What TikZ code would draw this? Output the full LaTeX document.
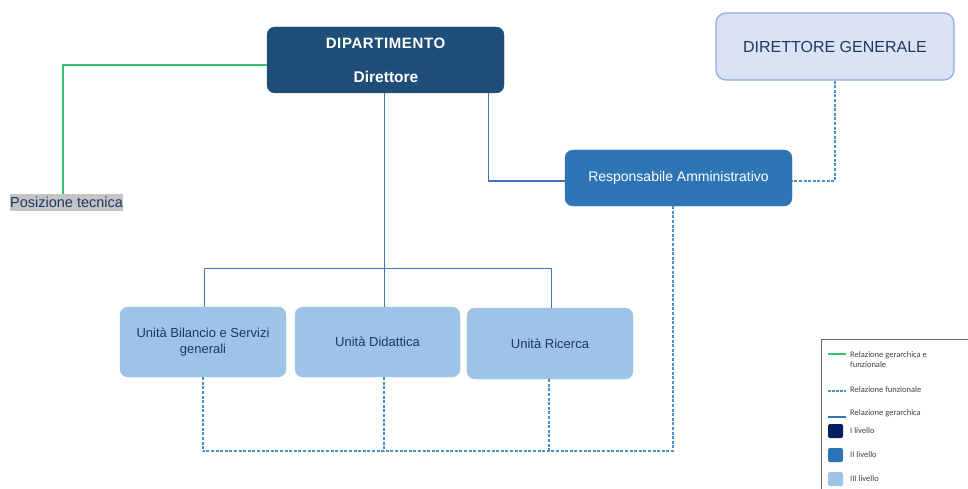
\documentclass[tikz,border=0pt]{standalone}
\usepackage{fontspec}
\setmainfont{Liberation Sans}
\newfontfamily\legfont{Carlito}
\definecolor{deptc}{HTML}{1F4E79}
\definecolor{dgfill}{HTML}{DAE3F3}
\definecolor{dgdraw}{HTML}{8FAADC}
\definecolor{respc}{HTML}{2E75B6}
\definecolor{unitc}{HTML}{9DC3E6}
\definecolor{navy}{HTML}{1F3864}
\definecolor{lineblue}{HTML}{4472C4}
\definecolor{dashblue}{HTML}{4A90D0}
\definecolor{greenl}{HTML}{2FC46A}
\definecolor{lev1}{HTML}{002060}
\definecolor{posbg}{HTML}{C4C4C4}
\tikzset{
  box/.style={rounded corners=8pt, inner sep=0pt, align=center},
  deptbox/.style={box, fill=deptc, draw=deptc, text=white, font=\bfseries\fontsize{15}{18}\selectfont},
  dgbox/.style={box, rounded corners=10pt, fill=dgfill, draw=dgdraw, line width=1.2pt, text=navy, font=\fontsize{16}{19}\selectfont},
  respbox/.style={box, fill=respc, draw=respc, text=white, font=\fontsize{14}{17}\selectfont},
  unitbox/.style={box, fill=unitc, draw=unitc, text=navy, font=\fontsize{13}{16}\selectfont},
  hier/.style={draw=lineblue, line width=1pt},
  func/.style={draw=dashblue, line width=1.3pt, dash pattern=on 3pt off 1.6pt},
  hierfunc/.style={draw=greenl, line width=1.3pt},
  legtext/.style={anchor=west, inner sep=0pt, text=black!75, font=\legfont\fontsize{8.5}{10}\selectfont, align=left},
  legsq/.style={rounded corners=2pt, minimum width=15pt, minimum height=14pt, inner sep=0pt},
}
\begin{document}
\begin{tikzpicture}[x=1pt, y=-1pt]
\useasboundingbox (0,0) rectangle (968,489);
% main boxes
\node[deptbox, minimum width=237pt, minimum height=66pt] (dept) at (385.5,60) {};
\node[text=white, font=\bfseries\fontsize{15}{18}\selectfont\addfontfeatures{LetterSpace=4}, inner sep=0pt] (deptt1) at (385.5,43) {DIPARTIMENTO};
\node[text=white, font=\bfseries\fontsize{15.5}{18}\selectfont, inner sep=0pt] (deptt2) at (386,77) {Direttore};
\node[dgbox, minimum width=238pt, minimum height=67pt] (dg) at (835,46.5) {DIRETTORE GENERALE};
\node[respbox, minimum width=227pt, minimum height=56pt] (resp) at (678.5,178) {Responsabile Amministrativo};
\node[unitbox, minimum width=166pt, minimum height=70pt] (u1) at (203,342) {Unità Bilancio e Servizi\\generali};
\node[unitbox, minimum width=165pt, minimum height=70pt] (u2) at (377.5,342) {Unità Didattica};
\node[unitbox, minimum width=166pt, minimum height=71pt] (u3) at (550,343.5) {Unità Ricerca};
\node[fill=posbg, text=navy, inner sep=0pt, minimum height=17pt, font=\fontsize{14.5}{17}\selectfont, anchor=north west] (pos) at (10,194) {Posizione tecnica};
% coordinates
\coordinate (gA) at (63,65);
\coordinate (bus) at (384,268);
\coordinate (busL) at (204,268);
\coordinate (busR) at (551,268);
\coordinate (rA) at (488,181);
\coordinate (dA) at (835,181);
\coordinate (fR) at (673,451);
\coordinate (fL) at (203,451);
% green hierarchical+functional
\draw[hierfunc] (dept.west |- gA) -- (gA) -- (gA |- pos.north);
% hierarchical
\draw[hier] (dept.south -| bus) -- (bus);
\draw[hier] (busL) -- (busR);
\draw[hier] (busL) -- (busL |- u1.north);
\draw[hier] (bus) -- (bus |- u2.north);
\draw[hier] (busR) -- (busR |- u3.north);
\draw[hier] (dept.south -| rA) -- (rA) -- (resp.west |- rA);
% functional
\draw[func] (dg.south) -- (dA) -- (resp.east |- dA);
\draw[func] (resp.south -| fR) -- (fR) -- (fL);
\draw[func] (u1.south -| fL) -- (fL);
\draw[func] (u2.south -| 384,0) -- (384,451);
\draw[func] (u3.south -| 549,0) -- (549,451);
% legend
\draw[draw=black!60, line width=0.8pt] (975,339) -- (821,339) -- (821,495);
\coordinate (l1a) at (828,354); \coordinate (l1b) at (846,354);
\draw[hierfunc, line width=1.2pt] (l1a) -- (l1b);
\node[legtext] (lt1) at (850,360) {Relazione gerarchica e\\funzionale};
\coordinate (l2a) at (828,391); \coordinate (l2b) at (846,391);
\draw[func, line width=1.2pt, dash pattern=on 2.5pt off 1.5pt] (l2a) -- (l2b);
\node[legtext] (lt2) at (850,390) {Relazione funzionale};
\coordinate (l3a) at (828,417); \coordinate (l3b) at (846,417);
\draw[draw=respc, line width=1.4pt] (l3a) -- (l3b);
\node[legtext] (lt3) at (850,413) {Relazione gerarchica};
\node[legsq, fill=lev1] (s1) at (835.5,431) {};
\node[legtext] (lt4) at (850,431) {I livello};
\node[legsq, fill=respc] (s2) at (835.5,455) {};
\node[legtext] (lt5) at (850,455) {II livello};
\node[legsq, fill=unitc] (s3) at (835.5,479) {};
\node[legtext] (lt6) at (850,479) {III livello};
\end{tikzpicture}
\end{document}
